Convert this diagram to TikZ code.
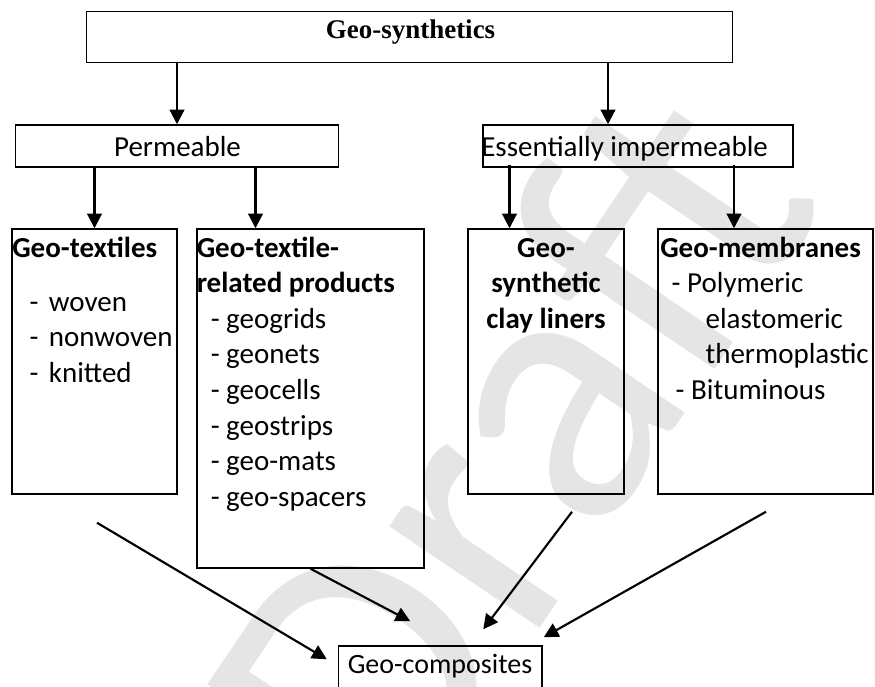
\documentclass[tikz,border=0pt]{standalone}
\usepackage{fontspec}
\setmainfont{Carlito}
\newfontfamily\serifbf{Liberation Serif}
\usetikzlibrary{calc,positioning,arrows.meta}

\tikzset{
  box/.style={draw, line width=1.1pt, inner sep=0pt},
  arr/.style={-{Triangle[length=11pt,width=11pt]}, line width=1.6pt},
  lbl/.style={inner sep=0pt, anchor=base, font=\fontsize{21.75}{26.7}\selectfont},
}

\begin{document}
\begin{tikzpicture}[x=0.75pt, y=-0.75pt]
  \useasboundingbox (0,0) rectangle (875,686);

  % watermark behind everything
  \node[inner sep=0pt, text=black!10, rotate=56, font=\fontsize{285}{285}\selectfont] (wm) at (505,450) {Draft};

  % boxes
  \node[box, minimum width=484.5pt, minimum height=38.25pt] (gsyn) at (409.5,37) {};

  \node[box, minimum width=242.25pt, minimum height=31.5pt] (perm) at (177,146) {};
  \node[box, minimum width=232.5pt, minimum height=31.5pt] (ess) at (638,146) {};

  \node[box, minimum width=123.75pt, minimum height=198.75pt] (gtex) at (94.5,361.5) {};
  \node[box, minimum width=170.25pt, minimum height=254.25pt] (gtrp) at (310.5,398.5) {};
  \node[box, minimum width=117pt, minimum height=198.75pt] (gscl) at (546,361.5) {};
  \node[box, minimum width=161.25pt, minimum height=198.75pt] (gmem) at (765.5,361.5) {};

  \node[box, minimum width=152.6pt, minimum height=33pt] (gcomp) at (440.25,668) {};

  %%

  \node[lbl] (gsyn-t) at (410.5,38) {\serifbf\fontsize{20.25}{24}\selectfont\bfseries Geo-synthetics};
  \node[lbl] (perm-t) at (177.5,156) {Permeable};
  \node[lbl, anchor=base west] (ess-t) at (481,156) {Essentially impermeable};

  \node[lbl, anchor=base west] (gtex-t) at (12,257) {\begin{tabular}[t]{@{}l@{}}
    \bfseries Geo-textiles\\[13.8pt]
    \hspace{13.1pt}-\hspace{7.7pt}woven\\
    \hspace{13.1pt}-\hspace{7.7pt}nonwoven\\
    \hspace{13.1pt}-\hspace{7.7pt}knitted
  \end{tabular}};

  \node[lbl, anchor=base west] (gtrp-t) at (196.5,257) {\begin{tabular}[t]{@{}l@{}}
    \bfseries Geo-textile-\\
    \bfseries related products\\
    \hspace{10.5pt}- geogrids\\
    \hspace{10.5pt}- geonets\\
    \hspace{10.5pt}- geocells\\
    \hspace{10.5pt}- geostrips\\
    \hspace{10.5pt}- geo-mats\\
    \hspace{10.5pt}- geo-spacers
  \end{tabular}};

  \node[lbl] (gscl-t) at (546,257) {\begin{tabular}[t]{@{}c@{}}
    \bfseries Geo-\\
    \bfseries synthetic\\
    \bfseries clay liners
  \end{tabular}};

  \node[lbl, anchor=base west] (gmem-t) at (660,257) {\begin{tabular}[t]{@{}l@{}}
    \bfseries Geo-membranes\\
    \hspace{8.6pt}- Polymeric\\
    \hspace{34pt}elastomeric\\
    \hspace{34pt}thermoplastic\\
    \hspace{11.6pt}- Bituminous
  \end{tabular}};

  \node[lbl, font=\fontsize{21}{25}\selectfont] (gcomp-t) at (440,673) {Geo-composites};

  %% arrows down the tree

  \draw[arr] (gsyn.south -| perm.north) -- (perm.north);
  \draw[arr] ($(gsyn.south -| ess.north)+(-30,0)$) -- ($(ess.north)+(-30,0)$);

  \draw[arr] (perm.south -| gtex.north) -- (gtex.north);
  \draw[arr] ($(perm.south -| gtrp.north)+(-55,0)$) -- ($(gtrp.north)+(-55,0)$);

  \draw[arr] ($(ess.south -| gscl.north)+(-36.5,-3)$) -- ($(gscl.north)+(-36.5,0)$);
  \draw[arr] ($(ess.south -| gmem.north)+(-31.5,-3)$) -- ($(gmem.north)+(-31.5,0)$);

  %% arrows into the composites

  \coordinate (gtex-out) at ($(gtex.south)+(2.5,28)$);
  \coordinate (gscl-out) at ($(gscl.south)+(26,17)$);
  \coordinate (gmem-out) at ($(gmem.south)+(0.5,17)$);

  \coordinate (in-a) at ($(gcomp.north west)+(-11,14)$);
  \coordinate (in-b) at ($(gcomp.north)+(-30,-24)$);
  \coordinate (in-c) at ($(gcomp.north)+(43,-16)$);
  \coordinate (in-d) at ($(gcomp.north east)+(1,-8)$);

  \draw[arr] (gtex-out) -- (in-a);
  \draw[arr] (gtrp.south) -- (in-b);
  \draw[arr] (gscl-out) -- (in-c);
  \draw[arr] (gmem-out) -- (in-d);

\end{tikzpicture}
\end{document}
